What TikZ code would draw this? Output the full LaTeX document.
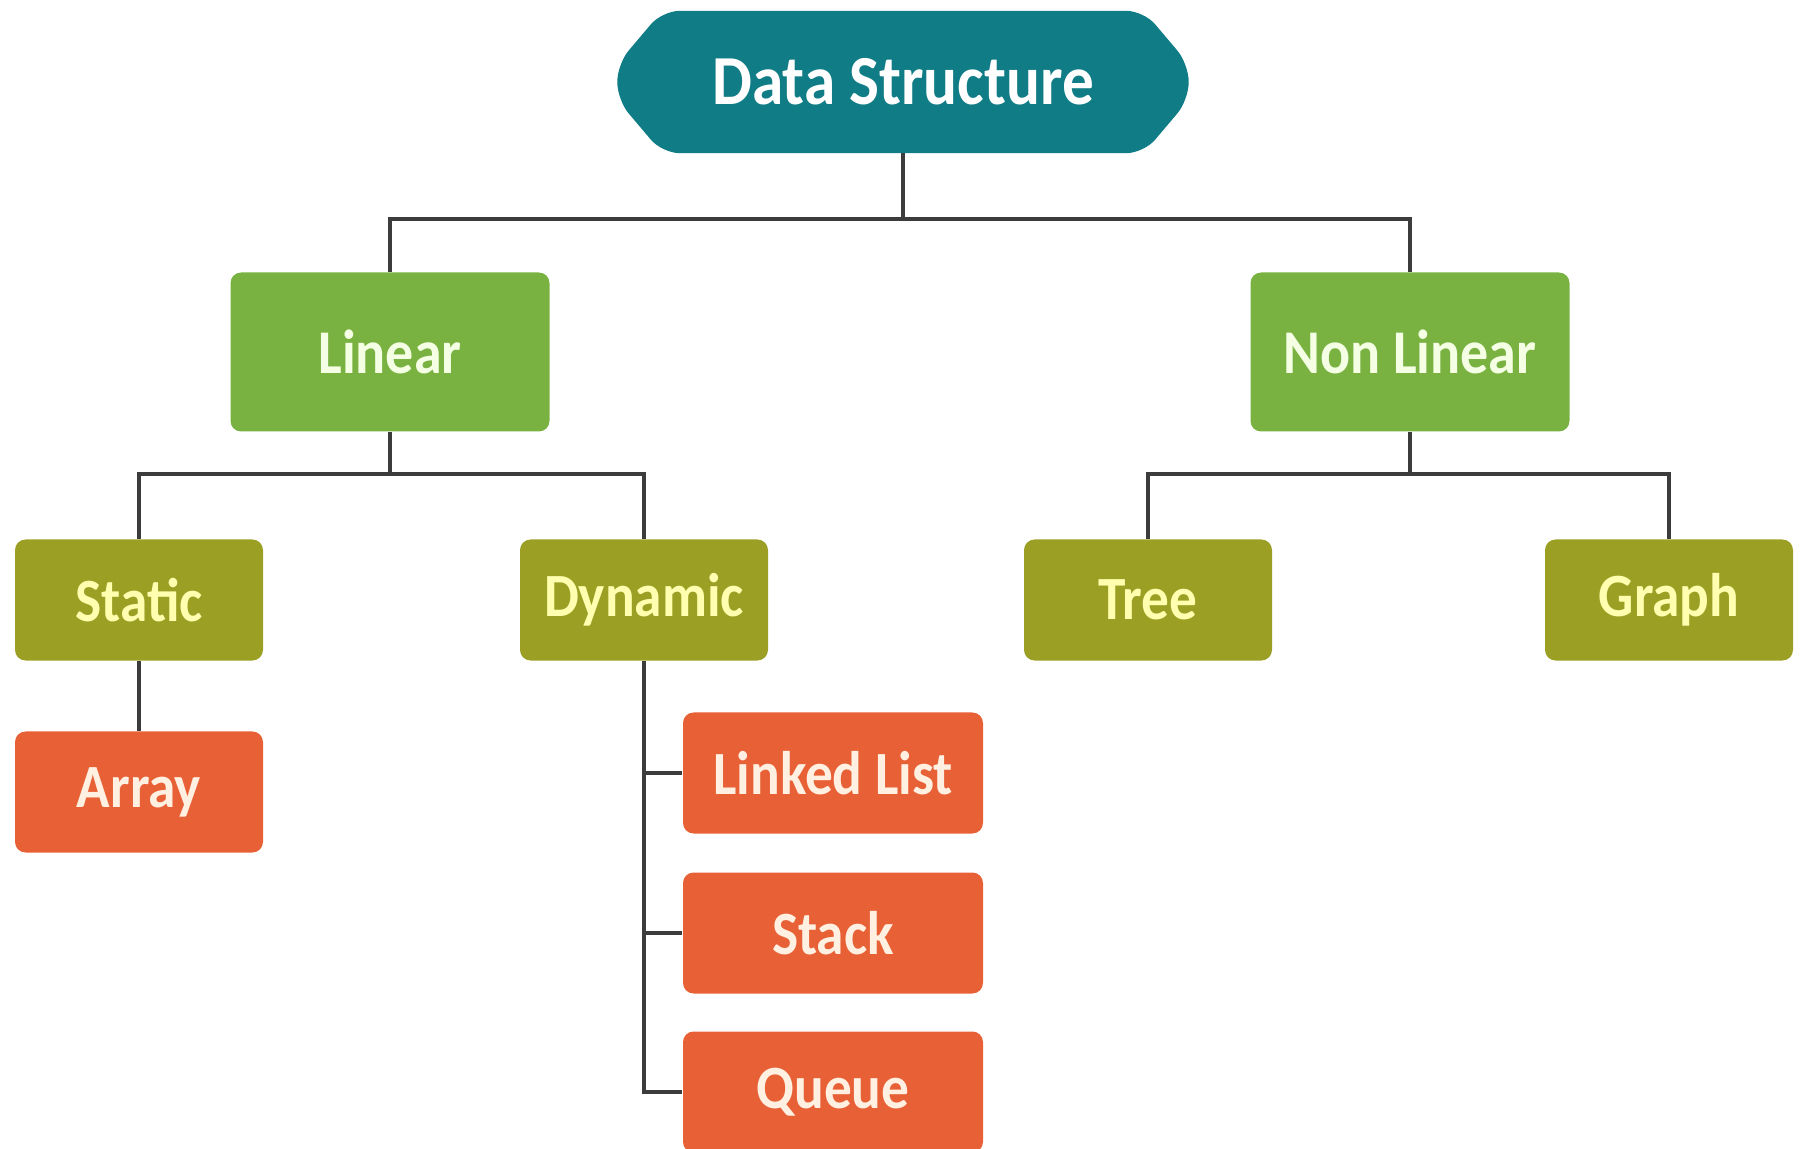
\documentclass[tikz,border=0pt]{standalone}
\usepackage{fontspec}
\setmainfont{Carlito}[FakeStretch=0.9]
\usepackage{tikz}
\usetikzlibrary{backgrounds}
\definecolor{dsteal}{RGB}{16,124,134}
\definecolor{dsgreen}{RGB}{122,178,66}
\definecolor{dsolive}{RGB}{155,160,36}
\definecolor{dsorange}{RGB}{232,96,54}
\definecolor{dsline}{RGB}{60,60,60}

\begin{document}
\begin{tikzpicture}[
    rootbox/.style={rectangle, text=white, minimum width=5.7cm, minimum height=1.41cm,
      font=\bfseries\fontsize{20}{22}\selectfont},
    kindbox/.style={rectangle, rounded corners=3pt, fill=dsgreen, text={rgb,255:red,244;green,255;blue,228},
      minimum width=3.19cm, minimum height=1.59cm, font=\bfseries\fontsize{17.7}{19}\selectfont},
    sortbox/.style={rectangle, rounded corners=3pt, fill=dsolive, text={rgb,255:red,255;green,255;blue,175},
      minimum width=2.48cm, minimum height=1.21cm, font=\bfseries\fontsize{17.5}{19}\selectfont},
    itembox/.style={rectangle, rounded corners=3pt, fill=dsorange, text={rgb,255:red,255;green,240;blue,225},
      minimum height=1.21cm, font=\bfseries\fontsize{17.5}{19}\selectfont},
    link/.style={draw=dsline, line width=1.3pt}
  ]
  \useasboundingbox (0,0) rectangle (18,-11.49);
  \node[rootbox] (ds) at (9.03,-0.82) {Data Structure};
  \node[kindbox] (linear) at (3.90,-3.52) {Linear};
  \node[kindbox] (nonlinear) at (14.10,-3.52) {Non Linear};
  \node[sortbox] (static) at (1.39,-6.00) {Static};
  \node[sortbox] (dynamic) at (6.44,-6.00) {Dynamic};
  \node[sortbox] (tree) at (11.48,-6.00) {Tree};
  \node[sortbox] (graph) at (16.69,-6.00) {Graph};
  \node[itembox, minimum width=2.48cm] (array) at (1.39,-7.92) {Array};
  \node[itembox, minimum width=3.00cm] (linkedlist) at (8.33,-7.73) {Linked List};
  \node[itembox, minimum width=3.00cm] (stack) at (8.33,-9.33) {Stack};
  \node[itembox, minimum width=3.00cm] (queue) at (8.33,-10.92) {Queue};
  % hexagon behind the title
  \begin{scope}[on background layer]
    \fill[dsteal, rounded corners=5pt] ([xshift=0.45cm]ds.north west) -- ([xshift=-0.45cm]ds.north east)
      -- ([yshift=0.18cm]ds.east) -- ([yshift=-0.18cm]ds.east) -- ([xshift=-0.45cm]ds.south east)
      -- ([xshift=0.45cm]ds.south west) -- ([yshift=-0.18cm]ds.west) -- ([yshift=0.18cm]ds.west) -- cycle;
  \end{scope}
  \coordinate (topbar) at (9.03,-2.19);
  \coordinate (linbar) at (3.90,-4.74);
  \coordinate (nonbar) at (14.10,-4.74);
  \draw[link] (ds) -- (topbar);
  \draw[link] (linear.north) |- (topbar) -| (nonlinear.north);
  \draw[link] (linear) -- (linbar);
  \draw[link] (static.north) |- (linbar) -| (dynamic.north);
  \draw[link] (nonlinear) -- (nonbar);
  \draw[link] (tree.north) |- (nonbar) -| (graph.north);
  \draw[link] (static) -- (array);
  \draw[link] (dynamic.south) |- (queue.west);
  \draw[link] (linkedlist.west) -- (linkedlist.west -| dynamic.south);
  \draw[link] (stack.west) -- (stack.west -| dynamic.south);
\end{tikzpicture}
\end{document}
